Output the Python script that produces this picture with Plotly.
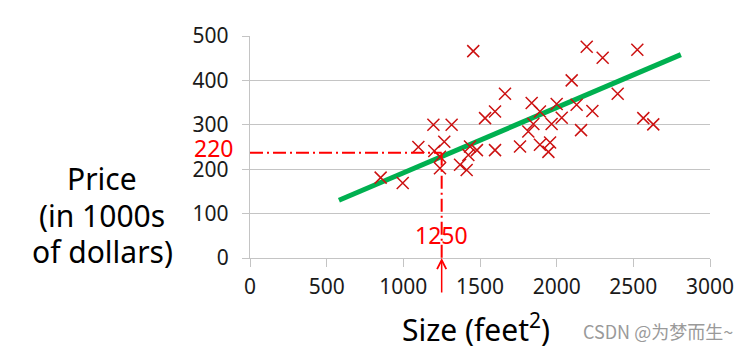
import plotly.graph_objects as go

# ---- data ----
sizes = [852, 996, 1098, 1196, 1315, 1202, 1267, 1239, 1239, 1370,
         1413, 1424, 1435, 1456, 1480, 1533, 1598, 1663, 1598, 1761,
         1815, 1837, 1848, 1891, 1891, 1957, 1946, 1967, 2000, 2033,
         2098, 2130, 2159, 2196, 2233, 2300, 2398, 2526, 2609, 2565, 2630]
prices = [181, 169, 250, 300, 300, 241, 262, 228, 202, 210,
          198, 232, 251, 466, 243, 315, 330, 370, 243, 251,
          285, 349, 302, 330, 255, 260, 239, 302, 347, 316,
          400, 345, 288, 476, 331, 451, 370, 469, 501, 315, 301]

fit_x = [580, 2810]
fit_y = [130, 458]

x_ticks = [0, 500, 1000, 1500, 2000, 2500, 3000]
y_ticks = [0, 100, 200, 300, 400, 500]

guide_x = 1250
guide_y = 237
guide_x_label = "1250"
guide_y_label = "220"

RED = "#ff0000"
CROSS = "#cc1111"
GREEN = "#00b050"
GRID = "#c4c4c4"
FONT = "Noto Sans, Liberation Sans, sans-serif"

fig = go.Figure()

fig.add_trace(go.Scatter(
    x=fit_x, y=fit_y, mode="lines",
    line=dict(color=GREEN, width=5), showlegend=False, hoverinfo="skip"))

fig.add_trace(go.Scatter(
    x=sizes, y=prices, mode="markers", cliponaxis=False,
    marker=dict(symbol="x-thin", size=12, line=dict(color=CROSS, width=1.5), color=CROSS),
    showlegend=False))

# guide lines
fig.add_shape(type="line", xref="x", yref="y", x0=0, x1=guide_x, y0=guide_y, y1=guide_y,
              line=dict(color=RED, width=2, dash="13px,4px,2px,4px"))
fig.add_shape(type="line", xref="x", yref="y", x0=guide_x, x1=guide_x, y0=guide_y, y1=0,
              line=dict(color=RED, width=2, dash="13px,4px,2px,4px"))

# arrow under the axis
fig.add_annotation(x=guide_x, y=0, xref="x", yref="y", text="", showarrow=True,
                   ax=0, ay=36, arrowhead=5, arrowsize=1.2, arrowwidth=1.5,
                   arrowcolor=RED, standoff=0)

fig.add_annotation(x=guide_x, y=0, xref="x", yref="y", text=guide_x_label, showarrow=False,
                   yshift=23, font=dict(family=FONT, size=23, color=RED))
fig.add_annotation(x=0, y=guide_y, xref="x", yref="y", text=guide_y_label, showarrow=False,
                   xanchor="right", xshift=-15, yshift=5,
                   font=dict(family=FONT, size=23, color=RED))

# axis titles as positioned text
L, T, W, H = 250, 36, 460, 222


def px_x(p):
    return (p - L) / W


def px_y(p):
    return (T + H - p) / H


for txt, cy in [("Price", 178), ("(in 1000s", 215), ("of dollars)", 251)]:
    fig.add_annotation(x=px_x(102), y=px_y(cy), xref="paper", yref="paper", text=txt,
                       showarrow=False, xanchor="center", yanchor="middle",
                       font=dict(family=FONT, size=30, color="#000000"))

fig.add_annotation(x=px_x(476), y=px_y(328), xref="paper", yref="paper",
                   text="Size (feet<sup>2</sup>)", showarrow=False,
                   xanchor="center", yanchor="middle",
                   font=dict(family=FONT, size=30, color="#000000"))

fig.add_annotation(x=px_x(658), y=px_y(331), xref="paper", yref="paper",
                   text="CSDN @为梦而生~", showarrow=False,
                   xanchor="center", yanchor="middle",
                   font=dict(family="Noto Sans CJK SC, Noto Sans, sans-serif", size=18, color="#9a9a9a"))

fig.update_layout(
    width=752, height=352,
    margin=dict(l=L, r=752 - L - W, t=T, b=352 - T - H),
    plot_bgcolor="white", paper_bgcolor="white",
    font=dict(family=FONT, size=21, color="#1a1a1a"),
    xaxis=dict(range=[0, 3000], tickvals=x_ticks, showgrid=False, zeroline=False,
               showline=True, linecolor=GRID, linewidth=1.3,
               ticks="outside", ticklen=8, tickcolor=GRID, tickwidth=1.3,
               ticklabelstandoff=2, tickfont=dict(size=21, color="#1a1a1a")),
    yaxis=dict(range=[0, 500], tickvals=y_ticks, showgrid=True, gridcolor=GRID, gridwidth=1.3,
               zeroline=False, showline=True, linecolor=GRID, linewidth=1.3,
               ticks="outside", ticklen=7, tickcolor=GRID, tickwidth=1.3,
               ticklabelstandoff=9, tickfont=dict(size=21, color="#1a1a1a")),
)

fig.write_html("out.html")
